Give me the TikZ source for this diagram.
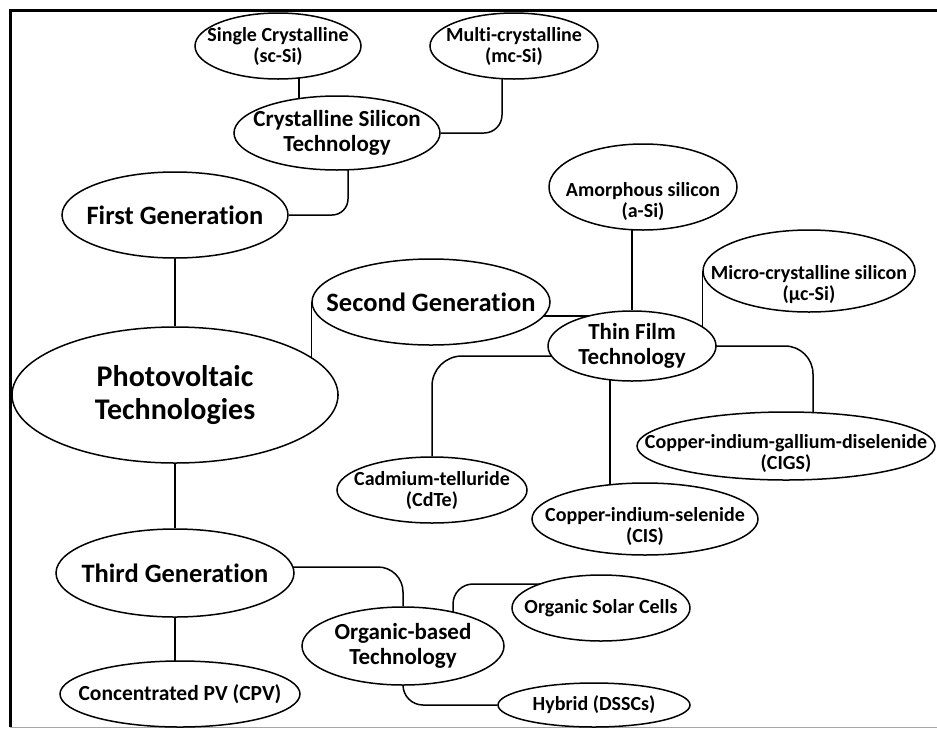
\documentclass[tikz,border=0pt]{standalone}
\usepackage{fontspec}
\setmainfont{Carlito}[Ligatures=NoCommon]
\usetikzlibrary{shapes.geometric,backgrounds}

\begin{document}
\begin{tikzpicture}[x=1pt, y=-1pt, line width=1.5pt,
  main node/.style 2 args={ellipse, draw, fill=white, minimum width=#1pt, minimum height=#2pt,
    inner xsep=-60pt, inner ysep=-8pt, align=center, font=\bfseries\fontsize{20}{21}\selectfont},
  mid/.style={font=\bfseries\fontsize{23}{25}\selectfont},
  big/.style={font=\bfseries\fontsize{26.5}{28}\selectfont},
  huge/.style={font=\bfseries\fontsize{30}{33}\selectfont},
  link/.style={rounded corners=#1}, link/.default=20pt]
\useasboundingbox (0,0) rectangle (937,729);

% frame
\draw[line width=3pt] (937,10) -- (10,10) -- (10,727);
\draw[black!35, line width=1pt] (10,727) -- (937,727);

% first generation
\node[main node={166}{66}] (1) at (278,46) {Single Crystalline\\(sc-Si)};
\node[main node={168}{66}] (2) at (514,46) {Multi-crystalline\\(mc-Si)};
\node[main node={206}{74}, mid] (3) at (337,133) {Crystalline Silicon\\Technology};
\node[main node={226}{86}, big] (4) at (175,215) {First Generation};

% root and second generation
\node[main node={326}{136}, huge] (6) at (175,395) {Photovoltaic\\Technologies};
\node[main node={238}{86}, big] (5) at (431,302) {Second Generation};
\node[main node={188}{86}] (7) at (643,187) {\rule{0pt}{43pt}Amorphous silicon\\(a-Si)};
\node[main node={212}{82}] (8) at (809,271) {\rule{0pt}{41pt}Micro-crystalline silicon\\(µc-Si)};
\node[main node={168}{70}, mid] (9) at (632,346) {Thin Film\\Technology};
\node[main node={190}{66}] (10) at (432,490) {Cadmium-telluride\\(CdTe)};
\node[main node={298}{68}] (11) at (786,446) {\rule{0pt}{29pt}Copper-indium-gallium-diselenide\\(CIGS)};
\node[main node={226}{72}] (12) at (645,519) {\rule{0pt}{29pt}Copper-indium-selenide\\(CIS)};

% third generation
\node[main node={238}{88}, big] (13) at (175,573) {Third Generation};
\node[main node={202}{78}, mid] (14) at (403,646) {Organic-based\\Technology};
\node[main node={178}{66}] (15) at (601,608) {Organic Solar Cells};
\node[main node={240}{66}, font=\bfseries\fontsize{21.5}{23}\selectfont] (16) at (180,694) {Concentrated PV (CPV)};
\node[main node={192}{44}] (17) at (594,705) {Hybrid (DSSCs)};

\begin{scope}[on background layer={line width=1.5pt}]
\draw ([xshift=21]1.center) -- ([xshift=-38]3.center);
\draw[link=18pt] ([xshift=-12]2.center) |- (3);
\draw[link=16pt] ([xshift=11]3.center) |- (4);
\draw (4) -- (6);
\draw (5.west) |- (6);
\draw ([yshift=-14]5.center) -- ([yshift=30]9.center);
\draw (9) -- (9 |- 7);
\draw (8.west) |- (9);
\draw[link=30pt] ([yshift=-10]9.center) -| (10);
\draw ([xshift=-22]9.center) -- ([xshift=-35]12.center);
\draw[link=28pt] (9) -| ([xshift=27]11.center);
\draw (6) -- (13);
\draw[link=25pt] ([yshift=6]13.center) -| (14);
\draw (13) -- (13 |- 16);
\draw[link] ([xshift=50]14.center) |- ([yshift=24]15.center);
\draw[link] (14) |- (17);
\end{scope}
\end{tikzpicture}
\end{document}
